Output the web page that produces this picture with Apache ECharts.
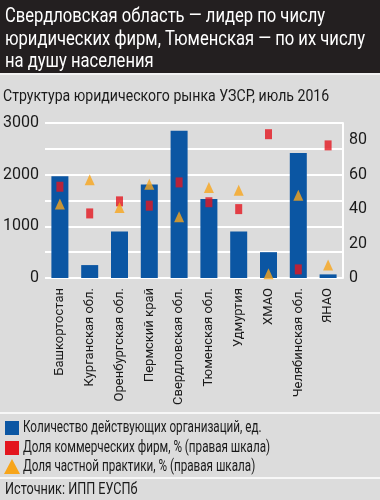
<!DOCTYPE html>
<html><head><meta charset="utf-8">
<script src="https://cdn.jsdelivr.net/npm/echarts@6/dist/echarts.min.js"></script>
<style>html,body{margin:0;padding:0;background:#dcdcdc}#c{width:380px;height:500px}</style>
</head><body><div id="c"></div>
<script>
const categories = ['Башкортостан','Курганская обл.','Оренбургская обл.','Пермский край','Свердловская обл.','Тюменская обл.','Удмуртия','ХМАО','Челябинская обл.','ЯНАО'];
const orgCount = [1970, 250, 900, 1810, 2850, 1530, 900, 500, 2420, 70];
const commercialShare = [53, 37.5, 44.5, 42, 55.5, 44, 40, 83.5, 5, 77];
const privateShare = [43, 57, 41, 54.5, 35.5, 52.5, 51, 2.5, 48, 7.5];
const seriesNames = ['Количество действующих организаций, ед.','Доля коммерческих фирм, % (правая шкала)','Доля частной практики, % (правая шкала)'];
const titleLines = ['Свердловская область — лидер по числу','юридических фирм, Тюменская — по их числу','на душу населения'];
const subtitleText = 'Структура юридического рынка УЗСР, июль 2016';
const sourceText = 'Источник: ИПП ЕУСПб';
const seriesColors = ['#0b56a3','#e3161f','#f7a51b'];

const FF = "Roboto, sans-serif";
function txt(x, y, text, size, color, sx){
  return {type:'text', x:x, y:y, scaleX:sx, style:{text:text, font:size+'px '+FF, fill:color, textVerticalAlign:'middle'}};
}
const graphics = [
  {type:'rect', x:0, y:0, shape:{width:380,height:73}, style:{fill:'#231f20'}, z:-1},
  {type:'rect', x:0, y:73, shape:{width:380,height:2}, style:{fill:'#f2f2f2'}, z:-1},
  {type:'rect', x:0, y:412, shape:{width:380,height:2}, style:{fill:'#f7f7f7'}, z:-1},
  {type:'rect', x:0, y:477, shape:{width:380,height:2}, style:{fill:'#f7f7f7'}, z:-1},
  txt(5, 17, titleLines[0], 21, '#ffffff', 0.79),
  txt(5, 40, titleLines[1], 21, '#ffffff', 0.79),
  txt(5, 62, titleLines[2], 21, '#ffffff', 0.79),
  txt(3, 97, subtitleText, 17, '#1a1a1a', 0.83),
  txt(5, 490, sourceText, 16, '#1a1a1a', 0.79)
];
// legend
const legY = [428, 448, 467];
seriesNames.forEach((n,i)=>{
  if(i<2) graphics.push({type:'rect', x:5, y:legY[i]-7, shape:{width:14,height:14}, style:{fill:seriesColors[i]}});
  else graphics.push({type:'polygon', shape:{points:[[12,legY[i]-8],[4,legY[i]+7],[20,legY[i]+7]]}, style:{fill:seriesColors[i]}});
  graphics.push(txt(23, legY[i], n, 16, '#1a1a1a', 0.73));
});

const chart = echarts.init(document.getElementById('c'), null, {renderer:'canvas'});
chart.setOption({
  backgroundColor:'#dcdcdc',
  animation:false,
  textStyle:{fontFamily:FF},
  graphic:graphics,
  grid:{left:45, right:37, top:123, bottom:222},
  xAxis:{
    type:'category', data:categories,
    axisLine:{show:false}, axisTick:{show:false},
    axisLabel:{rotate:90, fontSize:13, color:'#1a1a1a', margin:10, interval:0, fontFamily:FF}
  },
  yAxis:[
    {type:'value', min:0, max:3000, interval:500,
     axisLine:{show:false}, axisTick:{show:false},
     splitLine:{lineStyle:{color:'#ffffff', width:2}},
     axisLabel:{fontSize:16, color:'#1a1a1a', margin:6, fontFamily:FF,
       formatter:v=> (v%1000===0? String(v):'')}},
    {type:'value', min:0, max:90, interval:20, position:'right',
     axisLine:{show:true, lineStyle:{color:'#ffffff', width:2}},
     axisTick:{show:false},
     splitLine:{show:false},
     axisLabel:{fontSize:16, color:'#1a1a1a', margin:6, showMaxLabel:false, fontFamily:FF,
       formatter:v=> (v%20===0? String(v):'')}}
  ],
  series:[
    {name:seriesNames[0], type:'bar', data:orgCount, barWidth:17, itemStyle:{color:seriesColors[0]}, yAxisIndex:0},
    {name:seriesNames[1], type:'scatter', data:commercialShare, yAxisIndex:1, symbol:'rect', symbolSize:[7,10], itemStyle:{color:seriesColors[1]}, z:3},
    {name:seriesNames[2], type:'scatter', data:privateShare, yAxisIndex:1, symbol:'triangle', symbolSize:[10,11], itemStyle:{color:seriesColors[2]}, z:4}
  ]
});
</script></body></html>
